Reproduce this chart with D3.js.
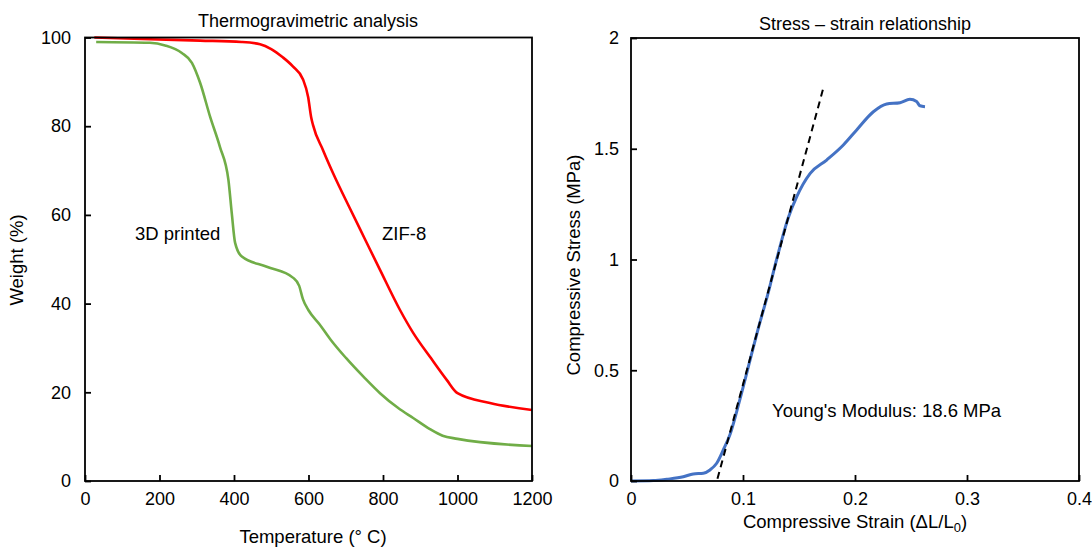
<!DOCTYPE html>
<html><head><meta charset="utf-8">
<script src="https://cdn.jsdelivr.net/npm/d3@7"></script>
<style>
body{margin:0;background:#fff}
text{font-family:"Liberation Sans",Arial,sans-serif;fill:#000}
</style>
</head><body>
<svg id="c" width="1092" height="550"></svg>
<script>
// ---- Thermogravimetric analysis data ----
const zifTemp   = [25, 174, 309, 420, 470, 500, 530, 558, 585, 599, 607, 612, 639, 666, 711, 750, 792, 846, 881, 926, 971, 1000, 1087, 1200];
const zifWeight = [100, 99.6, 99.3, 99.0, 98.5, 97.4, 95.6, 93.5, 90.6, 86.6, 82.1, 80.3, 74.6, 69.4, 61.5, 54.8, 47.6, 38.5, 33.4, 28, 22.8, 19.8, 17.6, 16];
const printTemp   = [30, 174, 215, 260, 287, 309, 336, 362, 385, 394, 403, 421, 488, 559, 575, 585, 600, 630, 660, 700, 750, 792, 840, 881, 926, 960, 1000, 1200];
const printWeight = [99, 98.8, 98.2, 96.5, 94.3, 89.8, 82.1, 75.4, 67.9, 60.4, 53.7, 50.6, 48.3, 45.8, 44, 41, 38.5, 35.3, 31.8, 27.8, 23.3, 19.8, 16.5, 14.2, 11.7, 10.2, 9.5, 7.9];
const tgaXTicks = [0, 200, 400, 600, 800, 1000, 1200];
const tgaYTicks = [0, 20, 40, 60, 80, 100];

// ---- Stress-strain data ----
const strain = [0, 0.02, 0.032, 0.0467, 0.0556, 0.0646, 0.0705, 0.0765, 0.0824, 0.0884, 0.0973, 0.106, 0.1137, 0.122, 0.130, 0.1405, 0.148, 0.16, 0.1747, 0.1896, 0.2015, 0.2164, 0.2283, 0.2402, 0.249, 0.255, 0.258, 0.2625];
const stress = [0, 0.002, 0.008, 0.019, 0.032, 0.035, 0.05, 0.08, 0.14, 0.21, 0.37, 0.54, 0.69, 0.84, 1.0, 1.19, 1.284, 1.389, 1.449, 1.517, 1.585, 1.667, 1.702, 1.708, 1.723, 1.713, 1.694, 1.69];
const fitStrain = [0.0772, 0.1715];
const fitStress = [0.01, 1.77];
const ssXTicks = [0, 0.1, 0.2, 0.3, 0.4];
const ssYTicks = [0, 0.5, 1, 1.5, 2];

const svg = d3.select("#c");

function frame(x, y, xTicks, yTicks, xPad, yPad) {
  const g = svg.append("g");
  const [x0, x1] = x.range(), [y0, y1] = y.range();
  const ax = g.append("g").attr("transform", `translate(0,${y0})`)
    .call(d3.axisBottom(x).tickValues(xTicks).tickSize(-6).tickPadding(xPad).tickFormat(d3.format("")));
  const ay = g.append("g").attr("transform", `translate(${x0},0)`)
    .call(d3.axisLeft(y).tickValues(yTicks).tickSize(-6).tickPadding(yPad).tickFormat(d3.format("")));
  [ax, ay].forEach(a => {
    a.select(".domain").remove();
    a.selectAll(".tick line").attr("stroke", "#000").attr("stroke-width", 1.8);
    a.selectAll(".tick text").style("font-size", "18px").attr("fill", "#000");
  });
  g.append("rect").attr("x", x0).attr("y", y1).attr("width", x1 - x0).attr("height", y0 - y1)
    .attr("fill", "none").attr("stroke", "#000").attr("stroke-width", 1.8);
  return g;
}

// ---- Left chart ----
const xL = d3.scaleLinear([0, 1200], [85, 532]);
const yL = d3.scaleLinear([0, 100], [481, 37.5]);
const lineL = d3.line().x(d => xL(d[0])).y(d => yL(d[1])).curve(d3.curveMonotoneX);
svg.append("path").datum(printTemp.map((t, i) => [t, printWeight[i]]))
  .attr("d", lineL).attr("fill", "none").attr("stroke", "#70AD47").attr("stroke-width", 2.6);
svg.append("path").datum(zifTemp.map((t, i) => [t, zifWeight[i]]))
  .attr("d", lineL).attr("fill", "none").attr("stroke", "#FF0000").attr("stroke-width", 2.6);
frame(xL, yL, tgaXTicks, tgaYTicks, 11, 14);

svg.append("text").attr("x", 308).attr("y", 27).attr("text-anchor", "middle").style("font-size", "18px").text("Thermogravimetric analysis");
svg.append("text").attr("x", 313).attr("y", 543).attr("text-anchor", "middle").style("font-size", "18.5px").text("Temperature (° C)");
svg.append("text").attr("transform", "translate(23,260) rotate(-90)").attr("text-anchor", "middle").style("font-size", "18.5px").text("Weight (%)");
svg.append("text").attr("x", 135).attr("y", 240).style("font-size", "18.5px").text("3D printed");
svg.append("text").attr("x", 382).attr("y", 240).style("font-size", "18.5px").text("ZIF-8");

// ---- Right chart ----
const xR = d3.scaleLinear([0, 0.4], [631, 1079]);
const yR = d3.scaleLinear([0, 2], [481, 38]);
const lineR = d3.line().x(d => xR(d[0])).y(d => yR(d[1])).curve(d3.curveMonotoneX);
svg.append("path").datum(strain.map((s, i) => [s, stress[i]]))
  .attr("d", lineR).attr("fill", "none").attr("stroke", "#4472C4").attr("stroke-width", 3);
svg.append("path").datum(fitStrain.map((s, i) => [s, fitStress[i]]))
  .attr("d", d3.line().x(d => xR(d[0])).y(d => yR(d[1])))
  .attr("fill", "none").attr("stroke", "#000").attr("stroke-width", 2).attr("stroke-dasharray", "7,5");
frame(xR, yR, ssXTicks, ssYTicks, 11, 12);

svg.append("text").attr("x", 865).attr("y", 30).attr("text-anchor", "middle").style("font-size", "18px").text("Stress – strain relationship");
const xt = svg.append("text").attr("x", 855).attr("y", 528).attr("text-anchor", "middle").style("font-size", "18.5px");
xt.append("tspan").text("Compressive Strain (ΔL/L");
xt.append("tspan").attr("dy", 4).style("font-size", "13px").text("0");
xt.append("tspan").attr("dy", -4).text(")");
svg.append("text").attr("transform", "translate(580,265) rotate(-90)").attr("text-anchor", "middle").style("font-size", "18.5px").text("Compressive Stress (MPa)");
svg.append("text").attr("x", 772).attr("y", 417).style("font-size", "18.5px").text("Young's Modulus: 18.6 MPa");
</script>
</body></html>
